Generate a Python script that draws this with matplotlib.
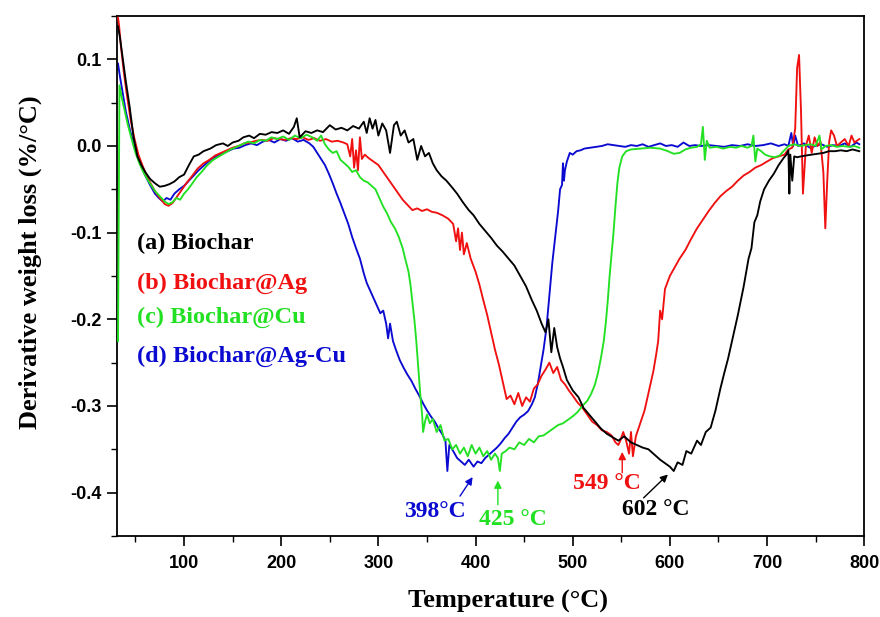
import matplotlib
matplotlib.use("Agg")
import matplotlib.pyplot as plt
from matplotlib.ticker import MultipleLocator, FuncFormatter

# ---------------- data ----------------
t_a = [32, 34, 37, 40, 44, 48, 52, 56, 60, 65, 70, 75, 80, 85, 90, 95, 100, 105, 110, 115,
       120, 127, 133, 140, 145, 150, 156, 161, 167, 172, 178, 184, 190, 196, 202, 208, 213, 216,
       219, 225, 231, 237, 243, 250, 256, 262, 268, 274, 280, 285, 288, 291, 294, 297, 300, 304,
       308, 312, 316, 319, 323, 327, 331, 336, 340, 344, 348, 352, 356, 360, 365, 370, 376, 381,
       387, 393, 398, 404, 410, 416, 422, 428, 434, 440, 446, 452, 458, 463, 468, 472, 475, 478,
       481, 484, 487, 490, 494, 500, 506, 511, 517, 523, 529, 535, 541, 547, 553, 560, 566, 572,
       578, 584, 590, 595, 600, 604, 608, 613, 617, 622, 628, 632, 637, 642, 647, 652, 656, 660,
       665, 670, 676, 681, 684, 687, 690, 693, 697, 702, 707, 712, 717, 720, 722, 723, 724, 726,
       728, 731, 735, 740, 746, 752, 758, 764, 770, 776, 782, 788, 795]
v_a = [0.138, 0.125, 0.10, 0.075, 0.045, 0.01, -0.012, -0.022, -0.03, -0.038, -0.043, -0.047,
       -0.046, -0.044, -0.041, -0.036, -0.033, -0.022, -0.012, -0.01, -0.006, -0.003, 0.001,
       0.003, 0.0, 0.004, 0.006, 0.01, 0.012, 0.009, 0.014, 0.013, 0.016, 0.015, 0.018, 0.014,
       0.022, 0.032, 0.01, 0.017, 0.015, 0.018, 0.016, 0.024, 0.019, 0.021, 0.018, 0.023, 0.02,
       0.028, 0.015, 0.032, 0.02, 0.03, 0.012, 0.026, 0.018, -0.008, 0.024, 0.028, 0.012, 0.018,
       0.004, 0.008, -0.016, 0.0, -0.012, -0.008, -0.02, -0.028, -0.035, -0.04, -0.048, -0.055,
       -0.065, -0.074, -0.08, -0.09, -0.098, -0.106, -0.115, -0.122, -0.13, -0.138, -0.15,
       -0.162, -0.178, -0.19, -0.205, -0.215, -0.2, -0.238, -0.21, -0.232, -0.245, -0.255,
       -0.27, -0.282, -0.29, -0.302, -0.31, -0.318, -0.326, -0.332, -0.336, -0.34, -0.335,
       -0.342, -0.345, -0.348, -0.35, -0.356, -0.362, -0.366, -0.37, -0.375, -0.365, -0.368,
       -0.352, -0.355, -0.34, -0.345, -0.33, -0.325, -0.305, -0.28, -0.262, -0.245, -0.22,
       -0.195, -0.162, -0.13, -0.118, -0.088, -0.08, -0.064, -0.05, -0.04, -0.032, -0.022,
       -0.014, -0.01, -0.005, -0.055, -0.01, -0.04, -0.012, -0.013, -0.012, -0.011, -0.01,
       -0.009, -0.008, -0.006, -0.006, -0.005, -0.006, -0.004, -0.006]

t_b = [32, 33, 35, 38, 41, 45, 49, 53, 57, 61, 65, 70, 75, 80, 84, 88, 93, 98, 103, 108, 114,
       120, 126, 132, 138, 144, 150, 156, 162, 168, 174, 180, 186, 192, 198, 204, 210, 216, 222,
       228, 234, 240, 246, 252, 258, 264, 268, 271, 273, 275, 277, 279, 281, 283, 286, 290, 295,
       300, 305, 310, 315, 320, 325, 330, 335, 340, 345, 350, 355, 360, 366, 372, 377, 380, 382,
       384, 386, 388, 391, 395, 400, 404, 408, 412, 416, 420, 424, 428, 432, 436, 440, 444, 448,
       452, 456, 460, 464, 468, 472, 476, 480, 484, 488, 492, 496, 500, 505, 510, 515, 520, 525,
       530, 535, 540, 544, 547, 549, 552, 555, 558, 560, 562, 565, 568, 571, 574, 577, 580, 583,
       586, 588, 590, 592, 595, 600, 605, 610, 616, 622, 628, 634, 640, 646, 652, 658, 664, 670,
       676, 682, 688, 694, 700, 706, 712, 718, 722, 726, 729, 731, 733, 735, 737, 740, 743, 746,
       749, 752, 755, 758, 760, 762, 764, 766, 769, 772, 776, 780, 784, 787, 790, 795]
v_b = [0.148, 0.14, 0.115, 0.085, 0.06, 0.03, 0.008, -0.01, -0.022, -0.033, -0.042, -0.052,
       -0.06, -0.067, -0.069, -0.066, -0.058, -0.05, -0.042, -0.035, -0.026, -0.02, -0.016,
       -0.011, -0.008, -0.005, -0.002, 0.0, 0.003, 0.004, 0.006, 0.007, 0.006, 0.009, 0.008,
       0.007, 0.009, 0.008, 0.01, 0.007, 0.009, 0.006, 0.008, 0.005, 0.006, 0.004, 0.002,
       -0.012, 0.008, -0.025, -0.005, -0.028, 0.01, -0.015, -0.01, -0.014, -0.018, -0.022,
       -0.03, -0.038, -0.046, -0.054, -0.062, -0.068, -0.074, -0.072, -0.075, -0.073, -0.076,
       -0.077, -0.08, -0.084, -0.09, -0.11, -0.095, -0.12, -0.1, -0.125, -0.112, -0.13, -0.145,
       -0.16, -0.178, -0.195, -0.215, -0.235, -0.252, -0.272, -0.292, -0.288, -0.298, -0.285,
       -0.3, -0.29, -0.295, -0.28, -0.275, -0.265, -0.258, -0.25, -0.262, -0.255, -0.27, -0.275,
       -0.282, -0.288, -0.296, -0.302, -0.31, -0.318, -0.322, -0.328, -0.33, -0.334, -0.342,
       -0.345, -0.34, -0.33, -0.34, -0.355, -0.33, -0.358, -0.335, -0.325, -0.315, -0.305,
       -0.29, -0.275, -0.26, -0.24, -0.225, -0.19, -0.2, -0.165, -0.15, -0.14, -0.13, -0.12,
       -0.107, -0.095, -0.085, -0.075, -0.066, -0.058, -0.052, -0.047, -0.04, -0.034, -0.03,
       -0.025, -0.022, -0.018, -0.014, -0.012, -0.01, -0.004, -0.002, 0.02, 0.09, 0.105, 0.04,
       -0.055, 0.0, 0.012, -0.008, 0.01, 0.0, 0.005, -0.03, -0.095, -0.04, 0.005, 0.018, 0.012,
       0.0, 0.004, 0.008, 0.0, 0.012, 0.004, 0.008]

t_c = [32, 33.5, 36, 39, 42, 46, 50, 54, 58, 62, 66, 70, 75, 80, 84, 88, 92, 96, 100, 104, 108,
       113, 118, 124, 130, 136, 142, 148, 154, 160, 166, 172, 178, 184, 190, 196, 202, 208, 214,
       220, 226, 232, 237, 241, 245, 249, 253, 257, 261, 265, 269, 273, 277, 281, 285, 289, 293,
       297, 301, 305, 309, 313, 317, 321, 325, 328, 331, 333, 335, 337, 339, 341, 343, 345, 346,
       348, 350, 353, 356, 360, 364, 368, 372, 376, 380, 384, 388, 392, 396, 400, 404, 408, 412,
       416, 420, 423, 425, 427, 431, 435, 440, 445, 450, 455, 460, 465, 470, 475, 480, 485, 490,
       495, 500, 505, 510, 515, 519, 523, 526, 529, 532, 534, 536, 538, 540, 542, 544, 546, 548,
       551, 555, 560, 570, 580, 590, 598, 604, 610, 616, 622, 628, 632, 634, 636, 638, 641, 648,
       655, 662, 668, 674, 680, 684, 686, 688, 690, 694, 698, 703, 708, 713, 717, 722, 728, 734,
       740, 745, 750, 754, 756, 760, 766, 772, 778, 784, 790, 795]
v_c = [-0.225, 0.07, 0.055, 0.04, 0.025, 0.008, -0.008, -0.02, -0.03, -0.038, -0.045, -0.052,
       -0.058, -0.064, -0.067, -0.065, -0.06, -0.062, -0.055, -0.05, -0.044, -0.036, -0.03,
       -0.022, -0.016, -0.012, -0.008, -0.004, -0.001, 0.002, 0.005, 0.003, 0.007, 0.006, 0.01,
       0.008, 0.011, 0.007, 0.012, 0.009, 0.013, 0.01, 0.006, 0.012, 0.002, -0.004, -0.008,
       -0.006, -0.016, -0.02, -0.024, -0.03, -0.028, -0.036, -0.04, -0.042, -0.046, -0.05,
       -0.06, -0.07, -0.078, -0.088, -0.095, -0.105, -0.118, -0.132, -0.145, -0.16, -0.18,
       -0.2, -0.225, -0.255, -0.285, -0.31, -0.33, -0.318, -0.31, -0.32, -0.315, -0.33, -0.322,
       -0.34, -0.338, -0.35, -0.345, -0.355, -0.348, -0.358, -0.345, -0.355, -0.348, -0.358,
       -0.352, -0.362, -0.355, -0.36, -0.375, -0.355, -0.352, -0.348, -0.35, -0.342, -0.345,
       -0.338, -0.342, -0.335, -0.334, -0.33, -0.326, -0.322, -0.32, -0.316, -0.312, -0.307,
       -0.3, -0.294, -0.286, -0.275, -0.262, -0.245, -0.225, -0.205, -0.18, -0.15, -0.125,
       -0.1, -0.07, -0.043, -0.025, -0.012, -0.006, -0.004, -0.003, -0.002, -0.003, -0.006,
       -0.009, -0.008, -0.004, -0.002, -0.001, 0.002, 0.022, -0.016, 0.006, -0.002, -0.001,
       -0.003, -0.001, -0.002, 0.0, -0.002, 0.0, 0.012, -0.018, -0.003, -0.006, -0.01, -0.012,
       -0.013, -0.011, -0.006, 0.0, 0.002, 0.0, 0.001, 0.002, 0.0, 0.012, -0.004, 0.0, 0.001,
       -0.001, 0.0, -0.001, 0.0, -0.002]

t_d = [32, 34, 37, 40, 44, 48, 52, 56, 60, 65, 70, 74, 78, 82, 86, 90, 95, 100, 105, 110, 115,
       121, 127, 133, 139, 145, 151, 157, 163, 169, 175, 181, 187, 193, 199, 205, 211, 217, 223,
       229, 233, 237, 241, 245, 249, 253, 257, 261, 265, 269, 273, 277, 281, 285, 288, 292, 296,
       300, 302, 305, 308, 310, 312, 315, 318, 322, 326, 330, 334, 338, 342, 346, 350, 354, 358,
       362, 366, 369, 371, 373, 377, 381, 385, 389, 393, 398, 402, 406, 410, 414, 418, 422, 426,
       430, 434, 438, 442, 446, 450, 454, 458, 461, 464, 467, 470, 473, 475, 477, 479, 481, 483,
       485, 487, 489, 490, 491, 492, 494, 497, 500, 504, 508, 512, 518, 524, 530, 536, 542, 548,
       554, 560, 566, 572, 578, 584, 590, 596, 602, 608, 614, 620, 626, 632, 640, 648, 656, 664,
       672, 680, 688, 696, 704, 712, 718, 722, 725, 727, 729, 732, 738, 744, 750, 756, 762, 768,
       774, 780, 786, 792, 795]
v_d = [0.095, 0.08, 0.06, 0.04, 0.02, 0.002, -0.012, -0.024, -0.034, -0.045, -0.055, -0.06,
       -0.064, -0.06, -0.062, -0.055, -0.05, -0.046, -0.04, -0.034, -0.028, -0.022, -0.016,
       -0.012, -0.009, -0.006, -0.003, -0.002, 0.001, 0.003, 0.001, 0.005, 0.007, 0.004, 0.008,
       0.006, 0.009, 0.005, 0.007, 0.003, -0.001, -0.008, -0.015, -0.022, -0.032, -0.043,
       -0.055, -0.066, -0.078, -0.09, -0.105, -0.118, -0.13, -0.147, -0.158, -0.168, -0.178,
       -0.188, -0.193, -0.19, -0.205, -0.222, -0.205, -0.225, -0.235, -0.247, -0.256, -0.264,
       -0.271, -0.28, -0.288, -0.297, -0.305, -0.312, -0.318, -0.326, -0.333, -0.34, -0.375,
       -0.345, -0.352, -0.36, -0.364, -0.368, -0.362, -0.37, -0.364, -0.366, -0.36, -0.356,
       -0.352, -0.348, -0.343, -0.337, -0.332, -0.325, -0.318, -0.313, -0.31, -0.306, -0.298,
       -0.29, -0.275, -0.255, -0.235, -0.21, -0.185, -0.16, -0.135, -0.115, -0.095, -0.075,
       -0.05, -0.045, -0.02, -0.04, -0.028, -0.018, -0.008, -0.01, -0.006, -0.005, -0.003,
       -0.002, -0.001, 0.0, 0.002, 0.001, 0.0, -0.001, 0.001, 0.0, 0.002, -0.001, 0.001, 0.003,
       0.0, 0.001, -0.001, 0.004, 0.0, 0.001, 0.0, 0.001, 0.0, -0.001, 0.001, 0.0, 0.002, 0.0,
       0.001, 0.003, 0.0, 0.002, 0.0, 0.015, 0.0, 0.012, 0.0, 0.003, -0.002, 0.0, 0.002,
       -0.001, 0.001, 0.0, 0.003, -0.001, 0.004, 0.002]

labels = ["(a) Biochar", "(b) Biochar@Ag", "(c) Biochar@Cu", "(d) Biochar@Ag-Cu"]
colors = ["#000000", "#f01010", "#22e022", "#0a0ad0"]

peak_text = ["602 °C", "549 °C", "425 °C", "398°C"]
peak_tip = [(598, -0.379), (551, -0.353), (423, -0.386), (397, -0.382)]
peak_tail = [(573, -0.406), (551, -0.377), (423, -0.414), (384, -0.404)]
peak_label_pos = [(585, -0.419), (535, -0.389), (438, -0.431), (358, -0.422)]

xticks = [100, 200, 300, 400, 500, 600, 700, 800]
yticks = [-0.4, -0.3, -0.2, -0.1, 0.0, 0.1]

# ---------------- plot ----------------
serif = ["Liberation Serif", "DejaVu Serif"]
sans = ["Liberation Sans", "DejaVu Sans"]

fig = plt.figure(figsize=(8.8, 6.17), dpi=100)
ax = fig.add_axes([0.133, 0.1313, 0.849, 0.8428])

series = [(t_a, v_a), (t_b, v_b), (t_c, v_c), (t_d, v_d)]
draw_order = [3, 1, 2, 0]
for i in draw_order:
    t, v = series[i]
    ax.plot(t, v, color=colors[i], lw=1.35, zorder=2 + draw_order.index(i))

ax.set_xlim(31, 800)
ax.set_ylim(-0.45, 0.15)
ax.set_xticks(xticks)
ax.set_yticks(yticks)
ax.xaxis.set_minor_locator(MultipleLocator(50))
ax.yaxis.set_minor_locator(MultipleLocator(0.05))
ax.yaxis.set_major_formatter(FuncFormatter(lambda y, p: "%.1f" % (round(y, 2) + 0.0)))
ax.xaxis.set_major_formatter(FuncFormatter(lambda x, p: "%d" % x))
ax.tick_params(which="major", direction="out", length=7, width=1.2)
ax.tick_params(axis="x", which="major", pad=7)
ax.tick_params(axis="y", which="major", pad=4)
ax.tick_params(which="minor", direction="out", length=4, width=1.0)
for lab in ax.get_xticklabels() + ax.get_yticklabels():
    lab.set_fontfamily(sans)
    lab.set_fontweight("bold")
    lab.set_fontsize(13)
for s in ax.spines.values():
    s.set_linewidth(1.3)

ax.set_xlabel("Temperature (°C)", fontfamily=serif, fontweight="bold", fontsize=19)
ax.set_ylabel("Derivative weight loss (%/°C)", fontfamily=serif, fontweight="bold",
              fontsize=19)
ax.xaxis.set_label_coords(0.523, -0.103)
ax.yaxis.set_label_coords(-0.100, 0.527)

# legend-like text
leg_y = [-0.112, -0.158, -0.198, -0.243]
for i in range(4):
    ax.text(52, leg_y[i], labels[i], color=colors[i], fontfamily=serif, fontweight="bold",
            fontsize=17.5, va="center", ha="left", zorder=10)

for i in range(4):
    ax.annotate("", xy=peak_tip[i], xytext=peak_tail[i],
                arrowprops=dict(arrowstyle="-|>", color=colors[i], lw=1.0,
                                mutation_scale=11, shrinkA=0, shrinkB=0), zorder=10)
    ax.text(peak_label_pos[i][0], peak_label_pos[i][1], peak_text[i], color=colors[i],
            fontfamily=serif, fontweight="bold", fontsize=17, ha="center", va="center",
            zorder=10)

fig.savefig("out.png", dpi=100)
